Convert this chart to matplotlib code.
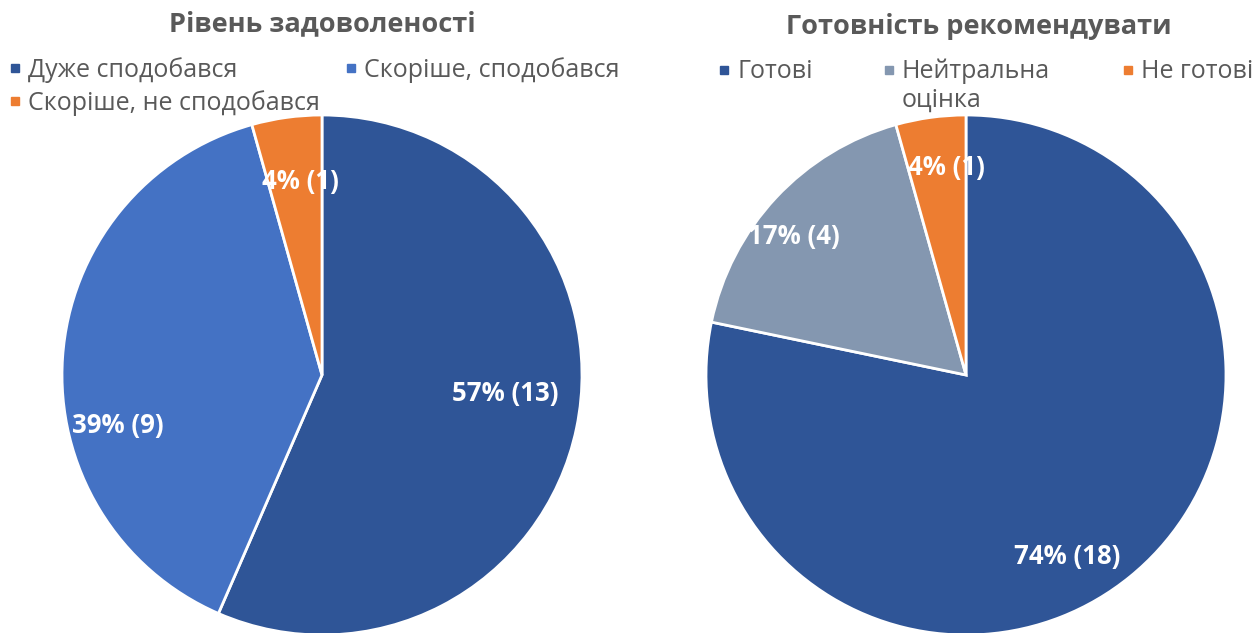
import numpy as np
import matplotlib
matplotlib.use("Agg")
import matplotlib.pyplot as plt
from matplotlib.lines import Line2D

plt.rcParams['font.family'] = ['Open Sans', 'DejaVu Sans']

# data
left_title = "Рівень задоволеності"
left_cats = ["Дуже сподобався", "Скоріше, сподобався", "Скоріше, не сподобався"]
left_counts = [13, 9, 1]
left_labels = ["57% (13)", "39% (9)", "4% (1)"]

right_title = "Готовність рекомендувати"
right_cats = ["Готові", "Нейтральна\nоцінка", "Не готові"]
right_counts = [18, 4, 1]
right_labels = ["74% (18)", "17% (4)", "4% (1)"]

left_colors = ['#2F5597', '#4472C4', '#ED7D31']
right_colors = ['#2F5597', '#8497B0', '#ED7D31']
TEXT = '#595959'

# label placement (radius, angle in deg) -- roughly where Excel put them
left_label_pos = [(0.71, -5.6), (0.81, 193.8), (0.75, 96.4)]
right_label_pos = [(0.80, -60.9), (0.85, 141.1), (0.80, 95.5)]

# legend entry positions in px (marker x, row y), Excel-style flow layout
left_legend_pos = [(15, 68), (351, 68), (15, 101)]
right_legend_pos = [(724, 70), (889, 70), (1128, 70)]

W, H = 1258, 633
fig = plt.figure(figsize=(W / 100, H / 100), dpi=100)

R = 260  # pie radius in px


def draw_pie(cx, cy, counts, colors, labels, label_pos):
    ax = fig.add_axes([(cx - R) / W, (H - cy - R) / H, 2 * R / W, 2 * R / H])
    ax.pie(counts, colors=colors, startangle=90, counterclock=False, radius=1,
           wedgeprops=dict(edgecolor='white', linewidth=2.0))
    for lab, (r, a) in zip(labels, label_pos):
        t = np.deg2rad(a)
        ax.text(r * np.cos(t), r * np.sin(t), lab, ha='center', va='center',
                color='white', fontsize=18.5, fontweight='bold')
    ax.set_xlim(-1, 1)
    ax.set_ylim(-1, 1)
    ax.set_aspect('equal')
    ax.axis('off')
    return ax


def draw_legend(cats, colors, positions):
    # hand-placed legend so entries are top aligned like in Excel
    for cat, c, (x, y) in zip(cats, colors, positions):
        fig.add_artist(Line2D([x / W], [1 - y / H], transform=fig.transFigure,
                              marker='s', markersize=5.5, linestyle='none',
                              markerfacecolor=c, markeredgecolor=c))
        fig.text((x + 13) / W, 1 - (y - 11) / H, cat, ha='left', va='top',
                 fontsize=18, color=TEXT, linespacing=1.17)


draw_pie(322, 375, left_counts, left_colors, left_labels, left_label_pos)
draw_pie(966, 375, right_counts, right_colors, right_labels, right_label_pos)

fig.text(322 / W, 1 - 24 / H, left_title, ha='center', va='center',
         fontsize=19.5, fontweight='bold', color=TEXT)
fig.text(979 / W, 1 - 27 / H, right_title, ha='center', va='center',
         fontsize=19.5, fontweight='bold', color=TEXT)

draw_legend(left_cats, left_colors, left_legend_pos)
draw_legend(right_cats, right_colors, right_legend_pos)

fig.savefig('out.png', dpi=100)
